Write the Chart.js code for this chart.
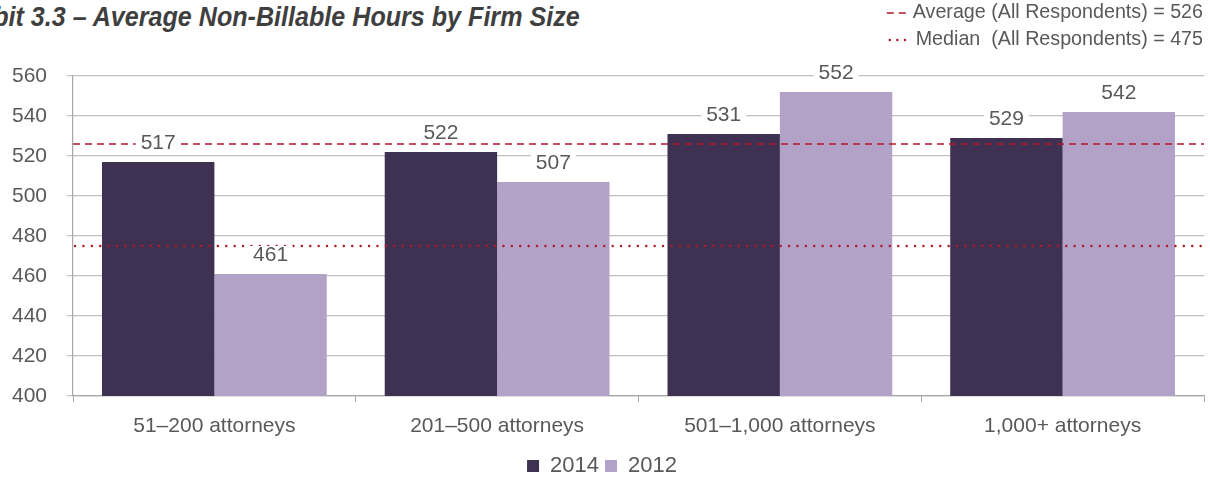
<!DOCTYPE html>
<html>
<head>
<meta charset="utf-8">
<script src="https://cdn.jsdelivr.net/npm/chart.js@4.4.1/dist/chart.umd.min.js"></script>
<style>
  html, body { margin: 0; padding: 0; background: #fff; }
  #wrap { position: relative; width: 1210px; height: 478px; overflow: hidden; }
  #title {
    position: absolute; right: 630px; top: 2px; white-space: nowrap;
    font-family: "Liberation Sans", Arial, sans-serif;
    font-weight: bold; font-style: italic;
    font-size: 27px; color: #3f3f3f;
    transform: scaleX(0.93); transform-origin: right center;
  }
  canvas { position: absolute; left: 0; top: 0; }
</style>
</head>
<body>
<div id="wrap">
  <div id="title">Exhibit 3.3 – Average Non-Billable Hours by Firm Size</div>
  <canvas id="chart" width="1210" height="478"></canvas>
</div>
<script>
// Chart data
const categories = ['51–200 attorneys', '201–500 attorneys', '501–1,000 attorneys', '1,000+ attorneys'];
const hours2014 = [517, 522, 531, 529];
const hours2012 = [461, 507, 552, 542];
const averageAll = 526;
const medianAll = 475;
const yTicks = [400, 420, 440, 460, 480, 500, 520, 540, 560];

const textColor = '#595959';
const lineRed = '#b0182a';

// reference lines, value labels and the top-right key
const overlayPlugin = {
  id: 'overlay',
  afterDatasetsDraw(chart) {
    const ctx = chart.ctx;
    const area = chart.chartArea;
    const y = chart.scales.y;

    ctx.save();
    ctx.lineWidth = 1.6;
    ctx.strokeStyle = lineRed;
    ctx.setLineDash([7, 5]);
    ctx.beginPath();
    ctx.moveTo(area.left, y.getPixelForValue(averageAll));
    ctx.lineTo(area.right, y.getPixelForValue(averageAll));
    ctx.stroke();

    ctx.lineWidth = 2.4;
    ctx.lineCap = 'round';
    ctx.setLineDash([0.1, 8.3]);
    ctx.beginPath();
    ctx.moveTo(area.left + 2, y.getPixelForValue(medianAll));
    ctx.lineTo(area.right, y.getPixelForValue(medianAll));
    ctx.stroke();
    ctx.restore();

    // value labels with white box
    ctx.save();
    ctx.font = '21px "Liberation Sans", Arial, sans-serif';
    ctx.textAlign = 'center';
    ctx.textBaseline = 'middle';
    chart.data.datasets.forEach((ds, i) => {
      chart.getDatasetMeta(i).data.forEach((bar, j) => {
        const txt = String(ds.data[j]);
        const w = ctx.measureText(txt).width + 10;
        const cy = bar.y - 20;
        ctx.fillStyle = '#fff';
        ctx.fillRect(bar.x - w / 2, cy - 8, w, 17);
        ctx.fillStyle = textColor;
        ctx.fillText(txt, bar.x, cy + 1);
      });
    });

    // key for reference lines
    ctx.font = '19.7px "Liberation Sans", Arial, sans-serif';
    ctx.textAlign = 'right';
    const keys = [
      { text: 'Average (All Respondents) = ' + averageAll, y: 13, dash: [7, 5], width: 1.6 },
      { text: 'Median  (All Respondents) = ' + medianAll, y: 40, dash: [0.1, 7.5], width: 2.4 }
    ];
    keys.forEach(k => {
      ctx.fillStyle = textColor;
      ctx.fillText(k.text, 1203, k.y);
      const left = 1203 - ctx.measureText(k.text).width - 26;
      ctx.strokeStyle = lineRed;
      ctx.lineWidth = k.width;
      ctx.lineCap = k.dash[0] < 1 ? 'round' : 'butt';
      ctx.setLineDash(k.dash);
      ctx.beginPath();
      ctx.moveTo(left, k.y);
      ctx.lineTo(left + 20, k.y);
      ctx.stroke();
    });
    ctx.restore();
  }
};

const ctx = document.getElementById('chart').getContext('2d');
const chart = new Chart(ctx, {
  type: 'bar',
  data: {
    labels: categories,
    datasets: [{
      label: '2014',
      data: hours2014,
      backgroundColor: '#3f3151'
    }, {
      label: '2012',
      data: hours2012,
      backgroundColor: '#b3a2c7'
    }]
  },
  options: {
    responsive: false,
    animation: false,
    categoryPercentage: 0.795,
    barPercentage: 1.0,
    layout: {
      padding: { left: 0, right: 6, top: 76, bottom: -9 }
    },
    plugins: {
      legend: {
        display: true,
        position: 'bottom',
        labels: {
          boxWidth: 12,
          boxHeight: 12,
          padding: 6,
          color: textColor,
          font: { family: '"Liberation Sans", Arial, sans-serif', size: 22 }
        }
      },
      tooltip: { enabled: false }
    },
    scales: {
      y: {
        min: 400,
        max: 560,
        afterBuildTicks: s => { s.ticks = yTicks.map(v => ({ value: v })); },
        afterFit: s => { s.width = 73; },
        grid: { color: '#c0c0c0', lineWidth: 1.2, tickLength: 6 },
        border: { color: '#a6a6a6', width: 1.2 },
        ticks: {
          padding: 20,
          color: textColor,
          font: { family: '"Liberation Sans", Arial, sans-serif', size: 21 }
        }
      },
      x: {
        afterFit: s => { s.height = 53; },
        grid: { drawOnChartArea: false, color: '#a6a6a6', tickLength: 6, offset: true },
        border: { color: '#a6a6a6', width: 1.2 },
        ticks: {
          padding: 12,
          color: textColor,
          font: { family: '"Liberation Sans", Arial, sans-serif', size: 21 }
        }
      }
    }
  },
  plugins: [overlayPlugin]
});
</script>
</body>
</html>
